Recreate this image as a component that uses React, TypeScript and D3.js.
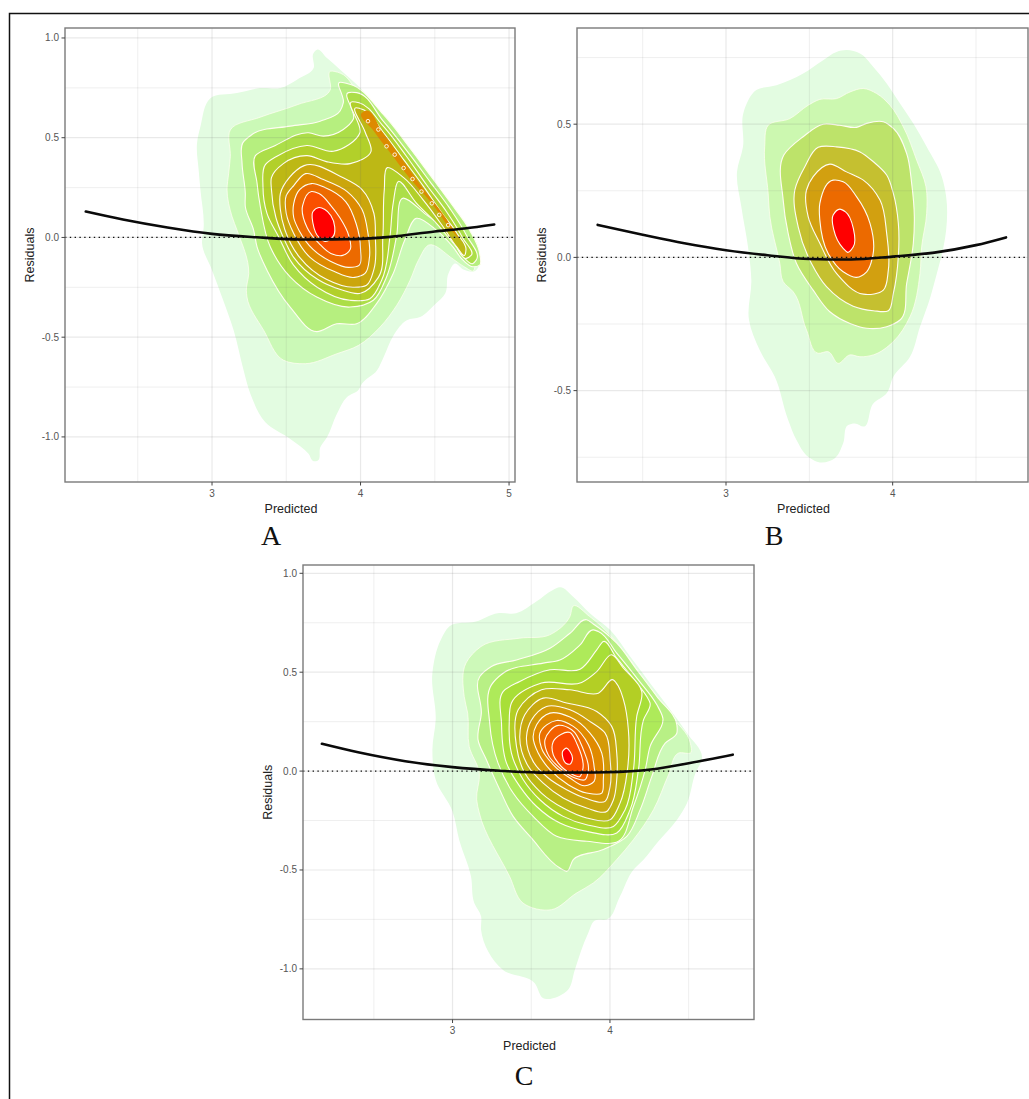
import React from 'react';
import * as d3 from 'd3';

type Pt = [number, number];

const xMajorA = [3, 4, 5];
const xMajorB = [3, 4];
const xMajorC = [3, 4];
const xMinor = [2.5, 3.5, 4.5];
const yMajorA = [-1, -0.5, 0, 0.5, 1];
const yMajorB = [-0.5, 0, 0.5];
const yMajorC = [-1, -0.5, 0, 0.5, 1];
const yMinorA = [-0.75, -0.25, 0.25, 0.75];
const yMinorB = [-0.75, -0.25, 0.25, 0.75];
const yMinorC = [-0.75, -0.25, 0.25, 0.75];

// fitted smooth curves
const fitA: Pt[] = [[2.15, .13], [2.4, .09], [2.7, .05], [3, .018], [3.3, .001], [3.6, -.01], [3.9, -.009], [4.2, .003], [4.5, .03], [4.7, .045], [4.9, .065]];
const fitB: Pt[] = [[2.23, .122], [2.5, .085], [2.75, .053], [3, .027], [3.25, .008], [3.5, -.006], [3.75, -.008], [4, .003], [4.25, .018], [4.5, .046], [4.68, .075]];
const fitC: Pt[] = [[2.17, .138], [2.4, .095], [2.7, .05], [3, .02], [3.3, .002], [3.6, -.008], [3.9, -.007], [4.2, .003], [4.5, .04], [4.78, .083]];

// density contours, panel A
const a1: Pt[] = [[3.706, .941], [3.774, .899], [3.863, .841], [3.998, .749], [4.132, .631], [4.267, .506], [4.401, .372], [4.536, .238], [4.648, .104], [4.738, -.013], [4.783, -.097], [4.798, -.139], [4.771, -.168], [4.693, -.161], [4.637, -.131], [4.592, -.181], [4.57, -.281], [4.502, -.335], [4.401, -.399], [4.312, -.415], [4.222, -.491], [4.155, -.6], [4.11, -.667], [4.009, -.734], [3.987, -.764], [3.908, -.801], [3.841, -.884], [3.774, -1.002], [3.729, -1.052], [3.711, -1.119], [3.684, -1.122], [3.65, -1.085], [3.527, -1.01], [3.359, -.926], [3.258, -.784], [3.213, -.667], [3.146, -.466], [3.067, -.298], [3, -.164], [2.933, -.03], [2.944, .054], [2.922, .238], [2.91, .338], [2.899, .472], [2.922, .556], [2.989, .698], [3.168, .724], [3.325, .749], [3.46, .749], [3.572, .791], [3.684, .849], [3.684, .925]];
const a2: Pt[] = [[3.796, .833], [3.863, .824], [3.998, .707], [4.132, .59], [4.267, .464], [4.401, .33], [4.536, .188], [4.648, .054], [4.715, -.03], [4.771, -.131], [4.76, -.168], [4.704, -.15], [4.626, -.11], [4.457, -.039], [4.39, -.114], [4.334, -.214], [4.244, -.34], [4.132, -.449], [3.987, -.541], [3.841, -.583], [3.628, -.633], [3.482, -.616], [3.348, -.466], [3.235, -.298], [3.231, -.265], [3.247, -.181], [3.168, .037], [3.135, .104], [3.101, .238], [3.112, .322], [3.123, .405], [3.123, .539], [3.325, .603], [3.572, .665], [3.796, .74]];
const a3: Pt[] = [[3.207, .474], [3.269, .516], [3.526, .558], [3.728, .583], [3.862, .634], [3.884, .676], [3.858, .777], [3.929, .768], [4.153, .617], [4.332, .449], [4.466, .315], [4.6, .18], [4.734, .037], [4.802, -.08], [4.802, -.139], [4.757, -.147], [4.69, -.114], [4.622, -.047], [4.511, .037], [4.376, .096], [4.298, -.013], [4.22, -.181], [4.108, -.332], [3.974, -.433], [3.84, -.433], [3.705, -.472], [3.526, -.349], [3.37, -.164], [3.303, -.047], [3.28, .037], [3.224, .155], [3.224, .222], [3.202, .373]];
const a4: Pt[] = [[3.292, .41], [3.415, .457], [3.65, .525], [3.75, .508], [3.884, .541], [3.951, .592], [3.918, .726], [3.974, .726], [4.153, .583], [4.332, .415], [4.466, .281], [4.6, .147], [4.712, .012], [4.779, -.114], [4.757, -.131], [4.69, -.097], [4.6, .021], [4.444, .113], [4.287, .197], [4.242, .004], [4.175, -.198], [4.086, -.315], [3.929, -.349], [3.705, -.299], [3.526, -.198], [3.392, -.047], [3.325, .155], [3.303, .273]];
const a5: Pt[] = [[3.359, .365], [3.437, .407], [3.638, .461], [3.817, .432], [3.996, .525], [3.945, .68], [3.99, .675], [4.153, .558], [4.309, .407], [4.444, .264], [4.578, .13], [4.69, -.005], [4.746, -.089], [4.712, -.105], [4.645, -.047], [4.511, .071], [4.376, .172], [4.254, .281], [4.22, .172], [4.198, .004], [4.142, -.215], [4.063, -.307], [3.929, -.315], [3.705, -.248], [3.549, -.139], [3.448, .004], [3.37, .121], [3.343, .256]];
const a6: Pt[] = [[3.4, .24], [3.4, .3], [3.48, .37], [3.64, .41], [3.77, .38], [3.93, .37], [4.07, .43], [4.03, .53], [3.97, .65], [4.02, .64], [4.15, .53], [4.29, .39], [4.42, .26], [4.55, .12], [4.65, .02], [4.71, -.06], [4.7, -.09], [4.65, -.05], [4.55, .06], [4.42, .19], [4.29, .3], [4.18, .35], [4.16, .24], [4.15, 0], [4.12, -.2], [4, -.28], [3.86, -.26], [3.71, -.21], [3.55, -.1], [3.48, 0], [3.43, .1]];
const a7: Pt[] = [[3.46, .22], [3.52, .3], [3.62, .36], [3.88, .3], [4.01, .24], [4.09, .12], [4.1, 0], [4.09, -.16], [4.04, -.24], [3.95, -.25], [3.77, -.21], [3.59, -.1], [3.49, .04], [3.46, .14]];
const a8: Pt[] = [[3.5, .21], [3.55, .26], [3.63, .32], [3.75, .29], [3.91, .23], [4.01, .14], [4.05, .02], [4.06, -.1], [4.03, -.18], [3.96, -.2], [3.82, -.17], [3.66, -.1], [3.55, .02], [3.5, .12]];
const a9: Pt[] = [[3.55, .17], [3.59, .24], [3.67, .27], [3.76, .25], [3.9, .18], [3.97, .07], [4, -.06], [3.99, -.14], [3.92, -.15], [3.8, -.12], [3.68, -.06], [3.59, .03], [3.55, .1]];
const a10: Pt[] = [[3.61, .16], [3.67, .23], [3.72, .22], [3.8, .16], [3.86, .1], [3.92, .01], [3.93, -.06], [3.88, -.09], [3.8, -.08], [3.72, -.03], [3.64, .05]];
const a11: Pt[] = [[3.68, .13], [3.72, .15], [3.76, .14], [3.8, .11], [3.81, 0], [3.76, -.02], [3.72, 0], [3.68, .07]];
const aRidge: Pt[] = [[4.03, .634], [4.15, .525], [4.29, .382], [4.42, .247], [4.56, .113], [4.66, -.005], [4.61, .037], [4.47, .18], [4.33, .298], [4.2, .424], [4.09, .533], [4.01, .625]];
const aRidgeSpots: Pt[] = [[4.05, .583], [4.12, .541], [4.175, .457], [4.23, .415], [4.29, .348], [4.35, .293], [4.41, .23], [4.48, .171], [4.53, .113], [4.59, .062]];

// density contours, panel B
const b1: Pt[] = [[3.723, .778], [3.804, .765], [3.884, .715], [3.964, .653], [4.044, .578], [4.124, .503], [4.204, .415], [4.295, .303], [4.321, .228], [4.321, .103], [4.305, .04], [4.265, -.06], [4.214, -.173], [4.164, -.26], [4.104, -.373], [4.004, -.448], [3.964, -.51], [3.884, -.548], [3.824, -.635], [3.773, -.623], [3.733, -.629], [3.703, -.698], [3.653, -.754], [3.573, -.77], [3.493, -.748], [3.423, -.685], [3.373, -.61], [3.293, -.448], [3.202, -.348], [3.138, -.235], [3.152, -.085], [3.132, .04], [3.092, .19], [3.066, .321], [3.102, .415], [3.106, .546], [3.182, .628], [3.303, .646], [3.463, .69], [3.583, .74], [3.663, .771]];
const b2: Pt[] = [[3.824, .634], [3.904, .615], [3.984, .571], [4.064, .49], [4.144, .365], [4.2, .265], [4.204, .165], [4.174, .04], [4.164, -.06], [4.104, -.223], [4.004, -.316], [3.884, -.366], [3.804, -.373], [3.744, -.366], [3.673, -.398], [3.613, -.354], [3.553, -.36], [3.483, -.273], [3.403, -.129], [3.343, -.091], [3.323, -.023], [3.263, .153], [3.253, .24], [3.232, .415], [3.253, .496], [3.383, .521], [3.493, .571], [3.563, .593], [3.663, .596], [3.744, .621]];
const b3: Pt[] = [[3.783, .488], [3.844, .503], [3.944, .509], [4.004, .484], [4.084, .39], [4.114, .278], [4.13, .153], [4.124, .053], [4.084, -.098], [4.044, -.235], [3.964, -.26], [3.844, -.266], [3.744, -.248], [3.623, -.204], [3.523, -.123], [3.423, -.023], [3.373, .09], [3.343, .215], [3.347, .384], [3.463, .453], [3.583, .5], [3.683, .496]];
const b4: Pt[] = [[3.553, .413], [3.663, .415], [3.804, .396], [3.884, .359], [3.964, .309], [4.004, .24], [4.034, .128], [4.034, .003], [4.004, -.135], [3.974, -.2], [3.884, -.2], [3.763, -.183], [3.603, -.11], [3.513, -.023], [3.433, .115], [3.413, .253], [3.473, .34]];
const b5: Pt[] = [[3.483, .253], [3.493, .153], [3.563, .053], [3.663, -.06], [3.824, -.138], [3.944, -.123], [3.974, -.048], [3.964, .09], [3.924, .215], [3.824, .29], [3.723, .321], [3.623, .35], [3.523, .303]];
const b6: Pt[] = [[3.563, .203], [3.643, .29], [3.703, .284], [3.783, .228], [3.864, .128], [3.88, .003], [3.844, -.054], [3.783, -.075], [3.703, -.054], [3.613, .015], [3.563, .14]];
const b7: Pt[] = [[3.643, .159], [3.683, .181], [3.717, .171], [3.764, .109], [3.764, .04], [3.73, .019], [3.703, .034], [3.647, .103]];

// density contours, panel C
const c1: Pt[] = [[3.681, .929], [3.766, .882], [3.872, .798], [4, .714], [4.128, .579], [4.255, .444], [4.383, .31], [4.489, .192], [4.585, .066], [4.543, -.01], [4.489, -.162], [4.426, -.246], [4.308, -.355], [4.213, -.448], [4.149, -.499], [4.064, -.633], [3.979, -.751], [3.904, -.756], [3.862, -.819], [3.777, -1.004], [3.734, -1.105], [3.574, -1.147], [3.521, -1.071], [3.319, -1.004], [3.181, -.802], [3.181, -.734], [3.138, -.667], [3.117, -.532], [3.042, -.347], [3, -.204], [2.893, -.044], [2.872, .108], [2.893, .259], [2.872, .495], [2.925, .663], [2.979, .731], [3.149, .756], [3.287, .798], [3.404, .798], [3.532, .857], [3.638, .916]];
const c2: Pt[] = [[3.766, .835], [3.872, .781], [4, .689], [4.128, .562], [4.255, .419], [4.383, .284], [4.511, .141], [4.515, .094], [4.436, .091], [4.372, -.019], [4.277, -.195], [4.149, -.347], [4.042, -.448], [3.894, -.566], [3.787, -.617], [3.628, -.701], [3.447, -.667], [3.362, -.532], [3.17, -.212], [3.153, -.145], [3.17, -.01], [3.106, .124], [3.096, .293], [3.074, .377], [3.085, .546], [3.181, .63], [3.425, .672], [3.617, .689], [3.745, .781]];
const c3: Pt[] = [[3.173, .478], [3.247, .529], [3.406, .562], [3.619, .621], [3.746, .697], [3.852, .765], [3.894, .744], [4.043, .647], [4.171, .512], [4.298, .377], [4.425, .234], [4.425, .192], [4.351, .141], [4.266, -.027], [4.192, -.195], [4.107, -.33], [3.958, -.397], [3.767, -.448], [3.725, -.507], [3.682, -.49], [3.502, -.339], [3.385, -.229], [3.3, -.094], [3.215, .057], [3.162, .158], [3.183, .293]];
const c4: Pt[] = [[3.247, .436], [3.321, .495], [3.576, .546], [3.682, .562], [3.81, .638], [3.895, .714], [3.926, .706], [4.043, .596], [4.171, .47], [4.298, .335], [4.336, .268], [4.255, .125], [4.224, .007], [4.149, -.179], [4.054, -.355], [3.852, -.355], [3.661, -.33], [3.512, -.229], [3.385, -.111], [3.289, .04], [3.236, .242]];
const c5: Pt[] = [[3.321, .402], [3.427, .453], [3.619, .512], [3.81, .515], [3.916, .613], [3.958, .655], [4.043, .571], [4.171, .445], [4.234, .377], [4.255, .344], [4.213, .259], [4.181, .007], [4.128, -.195], [4.043, -.313], [3.852, -.305], [3.682, -.263], [3.534, -.179], [3.427, -.077], [3.343, .04], [3.311, .242]];
const c6: Pt[] = [[3.374, .344], [3.565, .445], [3.82, .448], [3.916, .503], [4.011, .588], [4.086, .52], [4.202, .402], [4.17, .276], [4.149, .007], [4.096, -.195], [4.022, -.28], [3.852, -.271], [3.703, -.229], [3.555, -.145], [3.449, -.044], [3.374, .091], [3.36, .242]];
const c7: Pt[] = [[3.417, .31], [3.565, .411], [3.746, .411], [3.926, .394], [4.022, .461], [4.054, .428], [4.086, .36], [4.117, .209], [4.111, .007], [4.064, -.162], [4.001, -.246], [3.852, -.237], [3.703, -.187], [3.565, -.111], [3.459, -.01], [3.406, .125]];
const c8: Pt[] = [[3.459, .285], [3.576, .369], [3.725, .344], [3.916, .301], [4.011, .226], [4.043, .091], [4.043, -.044], [4.022, -.145], [3.979, -.204], [3.852, -.187], [3.703, -.136], [3.576, -.061], [3.481, .024], [3.427, .175]];
const c9: Pt[] = [[3.502, .259], [3.597, .327], [3.746, .31], [3.873, .251], [3.969, .192], [4.001, .057], [4.001, -.077], [3.969, -.153], [3.841, -.136], [3.725, -.094], [3.608, -.035], [3.512, .049], [3.47, .175]];
const c10: Pt[] = [[3.534, .234], [3.619, .293], [3.746, .273], [3.873, .192], [3.948, .091], [3.958, -.044], [3.948, -.111], [3.852, -.111], [3.735, -.069], [3.619, .007], [3.544, .091], [3.512, .175]];
const c11: Pt[] = [[3.555, .192], [3.661, .256], [3.767, .226], [3.863, .133], [3.899, .024], [3.899, -.052], [3.841, -.074], [3.746, -.035], [3.64, .032], [3.565, .116]];
const c12: Pt[] = [[3.587, .158], [3.672, .231], [3.757, .209], [3.831, .108], [3.863, .007], [3.841, -.044], [3.778, -.035], [3.682, .015], [3.608, .082]];
const c13: Pt[] = [[3.64, .15], [3.746, .195], [3.793, .133], [3.827, .007], [3.81, -.027], [3.746, -.01], [3.672, .04], [3.64, .082]];
const c14: Pt[] = [[3.699, .099], [3.725, .116], [3.746, .099], [3.761, .057], [3.746, .035], [3.72, .04], [3.699, .074]];

const ringsA = [a1, a2, a3, a4, a5, a6, a7, a8, a9, a10, a11];
const ringsB = [b1, b2, b3, b4, b5, b6, b7];
const ringsC = [c1, c2, c3, c4, c5, c6, c7, c8, c9, c10, c11, c12, c13, c14];

const fillsA = ['#e3fce1', '#cbf9b7', '#b6ef7f', '#acde48', '#b2d02a', '#bdb815', '#cba60c', '#dd8a00', '#ec6a00', '#fa5000', '#ff0000'];
const fillsB = ['#e3fce1', '#ccf8b0', '#bde36a', '#c5c030', '#d2a010', '#ec6a00', '#ff0000'];
const fillsC = ['#e3fce1', '#cdf9b9', '#b8f085', '#aeea5a', '#a8df38', '#b3cf25', '#bdb815', '#c9a810', '#d49a08', '#e08a00', '#ea7000', '#f46000', '#fb4a00', '#ff0000'];

const font = '"Liberation Sans", Arial, sans-serif';

function Panel(props: any) {
    const { left, right, top, bottom, xDomain, yDomain, xMajor, yMajor, yMinor, rings, fills, fit, ridge, spots, label, labelX, labelY } = props;
    const x = d3.scaleLinear().domain(xDomain).range([left, right]);
    const y = d3.scaleLinear().domain(yDomain).range([bottom, top]);
    const ring = d3.line<Pt>().x(d => x(d[0])).y(d => y(d[1])).curve(d3.curveCatmullRomClosed.alpha(1));
    const fitLine = d3.line<Pt>().x(d => x(d[0])).y(d => y(d[1])).curve(d3.curveMonotoneX);
    const midX = (left + right) / 2;

    return (
        <g fontFamily={font}>
            {rings.map((r: Pt[], i: number) => (
                <path key={i} d={ring(r) as string} fill={fills[i]}
                    stroke={i === 0 ? 'none' : '#fffdf2'}
                    strokeOpacity={i === 1 ? 0.75 : 1}
                    strokeWidth={i === 1 ? 1 : 1.1} />
            ))}
            {ridge && <path d={ring(ridge) as string} fill="#dd8a00" stroke="none" />}
            {spots && spots.map((d: Pt, i: number) => (
                <circle key={i} cx={x(d[0])} cy={y(d[1])} r={1.8} fill="none" stroke="#fffdf2" strokeWidth={0.9} />
            ))}

            {/* grid sits over the fills, it shows through the pale bands */}
            {xMinor.map((d, i) => <line key={i} x1={x(d)} x2={x(d)} y1={top} y2={bottom} stroke="rgba(110,110,110,0.11)" strokeWidth={1} />)}
            {yMinor.map((d: number, i: number) => <line key={i} x1={left} x2={right} y1={y(d)} y2={y(d)} stroke="rgba(110,110,110,0.11)" strokeWidth={1} />)}
            {xMajor.map((d: number, i: number) => <line key={i} x1={x(d)} x2={x(d)} y1={top} y2={bottom} stroke="rgba(110,110,110,0.15)" strokeWidth={1.2} />)}
            {yMajor.map((d: number, i: number) => <line key={i} x1={left} x2={right} y1={y(d)} y2={y(d)} stroke="rgba(110,110,110,0.15)" strokeWidth={1.2} />)}

            <line x1={left} x2={right} y1={y(0)} y2={y(0)} stroke="#111" strokeWidth={1.3} strokeDasharray="1.4,3.4" />
            <path d={fitLine(fit) as string} fill="none" stroke="#0a0a0a" strokeWidth={2.6} strokeLinecap="round" />

            <rect x={left} y={top} width={right - left} height={bottom - top} fill="none" stroke="#7a7a7a" strokeWidth={1.4} />

            {xMajor.map((d: number, i: number) => (
                <g key={i}>
                    <line x1={x(d)} x2={x(d)} y1={bottom} y2={bottom + 3.5} stroke="#444" strokeWidth={1} />
                    <text x={x(d)} y={bottom + 14.5} textAnchor="middle" fontSize={10} fill="#555">{d}</text>
                </g>
            ))}
            {yMajor.map((d: number, i: number) => (
                <g key={i}>
                    <line x1={left - 3.5} x2={left} y1={y(d)} y2={y(d)} stroke="#444" strokeWidth={1} />
                    <text x={left - 6} y={y(d) + 3.5} textAnchor="end" fontSize={10} fill="#555">{d.toFixed(1)}</text>
                </g>
            ))}

            <text x={midX + 1} y={bottom + 30.5} textAnchor="middle" fontSize={12.5} fill="#222">Predicted</text>
            <text transform={`translate(${left - 31},${(top + bottom) / 2}) rotate(-90)`} textAnchor="middle" fontSize={12.5} fill="#222">Residuals</text>
            <text x={labelX} y={labelY} textAnchor="middle" fontSize={28} fill="#111" fontFamily='"Liberation Serif", "Times New Roman", serif'>{label}</text>
        </g>
    );
}

export default function App() {
    return (
        <svg width={1029} height={1099} style={{ position: 'absolute', left: 0, top: 0, background: '#fff' }}>
            <path d="M1029,13.5 H9.5 V1099" fill="none" stroke="#111" strokeWidth={1.5} />
            <Panel left={65} right={515} top={28} bottom={482} xDomain={[2.01, 5.04]} yDomain={[-1.226, 1.05]}
                xMajor={xMajorA} yMajor={yMajorA} yMinor={yMinorA} rings={ringsA} fills={fillsA} fit={fitA}
                ridge={aRidge} spots={aRidgeSpots} label="A" labelX={271} labelY={545} />
            <Panel left={577} right={1028} top={28} bottom={482} xDomain={[2.106, 4.812]} yDomain={[-0.843, 0.861]}
                xMajor={xMajorB} yMajor={yMajorB} yMinor={yMinorB} rings={ringsB} fills={fillsB} fit={fitB}
                label="B" labelX={774} labelY={545} />
            <Panel left={303} right={754} top={565} bottom={1019.5} xDomain={[2.05, 4.915]} yDomain={[-1.256, 1.042]}
                xMajor={xMajorC} yMajor={yMajorC} yMinor={yMinorC} rings={ringsC} fills={fillsC} fit={fitC}
                label="C" labelX={524} labelY={1085} />
        </svg>
    );
}
